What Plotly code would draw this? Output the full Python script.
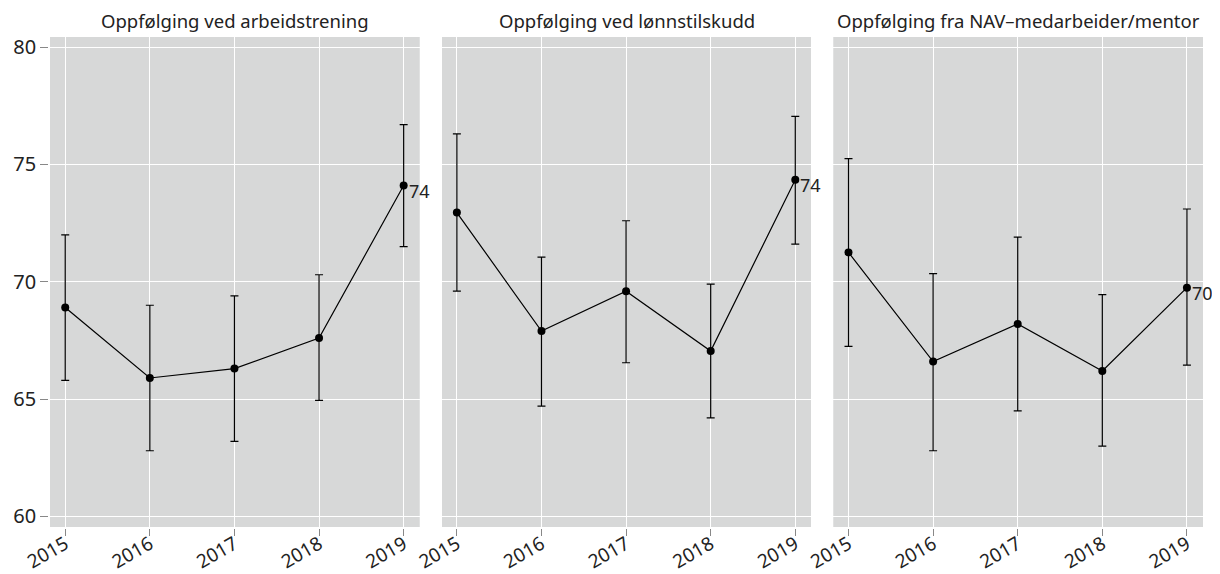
import plotly.graph_objects as go
from plotly.subplots import make_subplots

years = [2015, 2016, 2017, 2018, 2019]
titles = ["Oppfølging ved arbeidstrening",
          "Oppfølging ved lønnstilskudd",
          "Oppfølging fra NAV–medarbeider/mentor"]

# point estimates and confidence bounds per panel
arbeidstrening = [68.9, 65.9, 66.3, 67.6, 74.1]
arbeidstrening_hi = [72.0, 69.0, 69.4, 70.3, 76.7]
arbeidstrening_lo = [65.8, 62.8, 63.2, 64.95, 71.5]

lonnstilskudd = [72.95, 67.9, 69.6, 67.05, 74.35]
lonnstilskudd_hi = [76.3, 71.05, 72.6, 69.9, 77.05]
lonnstilskudd_lo = [69.6, 64.7, 66.55, 64.2, 71.6]

mentor = [71.25, 66.6, 68.2, 66.2, 69.75]
mentor_hi = [75.25, 70.35, 71.9, 69.45, 73.1]
mentor_lo = [67.25, 62.8, 64.5, 63.0, 66.45]

series = [(arbeidstrening, arbeidstrening_hi, arbeidstrening_lo),
          (lonnstilskudd, lonnstilskudd_hi, lonnstilskudd_lo),
          (mentor, mentor_hi, mentor_lo)]

FONT = "Noto Sans"
TXT = "#222222"

fig = make_subplots(rows=1, cols=3, shared_yaxes=True, horizontal_spacing=0.019)

for i, (vals, hi, lo) in enumerate(series):
    fig.add_trace(go.Scatter(
        x=years, y=vals, mode="lines+markers",
        line=dict(color="black", width=1.2),
        marker=dict(color="black", size=8),
        error_y=dict(type="data", symmetric=False,
                     array=[h - v for h, v in zip(hi, vals)],
                     arrayminus=[v - l for v, l in zip(vals, lo)],
                     color="black", thickness=1.2, width=4),
        showlegend=False,
    ), row=1, col=i + 1)

    # label for the last value
    fig.add_annotation(x=years[-1], y=vals[-1], text=str(round(vals[-1])),
                       xanchor="left", yanchor="middle", xshift=3, yshift=-5,
                       showarrow=False, font=dict(size=18, color=TXT, family=FONT),
                       row=1, col=i + 1)

    fig.update_xaxes(range=[2014.82, 2019.19], tickvals=years, ticktext=[str(y) for y in years],
                     tickangle=-30, ticks="outside", ticklen=7, tickcolor="#888888",
                     ticklabelstandoff=-10,
                     showgrid=True, gridcolor="white", gridwidth=1.2, zeroline=False,
                     showline=True, linecolor="white", linewidth=1.5, mirror=True,
                     tickfont=dict(size=19, color=TXT, family=FONT), automargin=False,
                     row=1, col=i + 1)

fig.update_yaxes(range=[59.55, 80.43], tickvals=[60, 65, 70, 75, 80],
                 ticks="outside", ticklen=8, tickcolor="#888888",
                 showgrid=True, gridcolor="white", gridwidth=1.2, zeroline=False,
                 showline=True, linecolor="white", linewidth=1.5, mirror=True,
                 tickfont=dict(size=20, color=TXT, family=FONT), automargin=False)
fig.update_yaxes(ticks="", row=1, col=2)
fig.update_yaxes(ticks="", row=1, col=3)

for i, t in enumerate(titles):
    xa = fig.layout["xaxis" if i == 0 else "xaxis%d" % (i + 1)]
    d = xa.domain
    fig.add_annotation(text=t, x=(d[0] + d[1]) / 2, y=1.0, xref="paper", yref="paper",
                       xanchor="center", yanchor="bottom", yshift=2, showarrow=False,
                       font=dict(size=18.5, color=TXT, family=FONT))

# page body adds an 8px offset, so the figure is sized to fit the window
fig.update_layout(
    width=1212, height=566,
    margin=dict(l=42, r=17, t=29, b=47),
    plot_bgcolor="#d7d8d8", paper_bgcolor="white",
    font=dict(family=FONT, color=TXT),
)

fig.write_html("out.html")
